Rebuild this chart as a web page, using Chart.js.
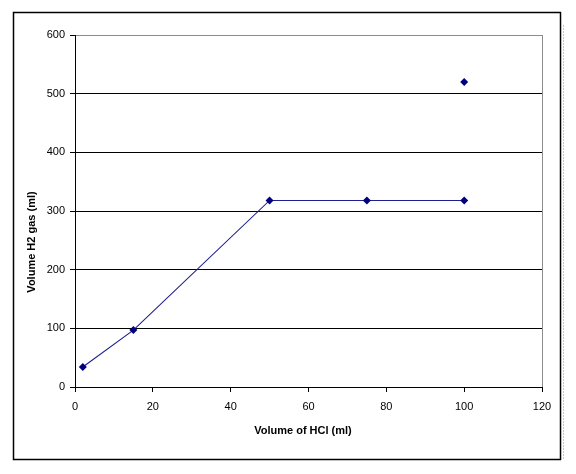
<!DOCTYPE html>
<html>
<head>
<meta charset="utf-8">
<script src="https://cdn.jsdelivr.net/npm/chart.js@4.4.1/dist/chart.umd.min.js"></script>
<style>
  html, body { margin: 0; padding: 0; background: #fff; }
  #wrap { position: relative; width: 576px; height: 474px; }
</style>
</head>
<body>
<div id="wrap"><canvas id="myChart" width="576" height="474"></canvas></div>
<script>
// volume of HCl added (ml) and H2 collected (ml)
const hcl = [2, 15, 50, 75, 100];
const h2 = [34, 97, 318, 318, 318];
// the odd reading at 100 ml, plotted on its own
const outlierHcl = [100];
const outlierH2 = [520];

const xTicks = [0, 20, 40, 60, 80, 100, 120];
const yTicks = [0, 100, 200, 300, 400, 500, 600];

const xTitle = 'Volume of HCl (ml)';
const yTitle = 'Volume H2 gas (ml)';

const navy = '#000080';
const grey = '#8c8c8c';
const fontFamily = 'Liberation Sans, Arial, sans-serif';

const toPoints = (xs, ys) => xs.map((x, i) => ({ x: x, y: ys[i] }));

// outer frame, grey right edge of the plot, and the axis titles
// (titles drawn here because in the original they sit off-centre)
const framePlugin = {
    id: 'frame',
    beforeDraw(chart) {
        const c = chart.ctx;
        c.save();
        c.fillStyle = '#fff';
        c.fillRect(0, 0, chart.width, chart.height);
        c.strokeStyle = '#000';
        c.lineWidth = 1.5;
        c.strokeRect(13.5, 12.5, 547, 447);
        c.strokeStyle = '#c8c8c8';
        c.lineWidth = 1;
        c.setLineDash([2, 1]);
        c.beginPath();
        c.moveTo(563.5, 25);
        c.lineTo(563.5, 460);
        c.stroke();
        c.restore();
    },
    afterDatasetsDraw(chart) {
        const a = chart.chartArea;
        const c = chart.ctx;
        c.save();
        c.strokeStyle = grey;
        c.lineWidth = 1;
        c.beginPath();
        c.moveTo(Math.round(a.right) + 0.5, a.top);
        c.lineTo(Math.round(a.right) + 0.5, a.bottom);
        c.stroke();

        c.fillStyle = '#000';
        c.font = 'bold 11px ' + fontFamily;
        c.textAlign = 'center';
        c.textBaseline = 'middle';
        c.fillText(xTitle, 303, 431);
        c.translate(32, 242);
        c.rotate(-Math.PI / 2);
        c.fillText(yTitle, 0, 0);
        c.restore();
    }
};

const ctx = document.getElementById('myChart').getContext('2d');

const myChart = new Chart(ctx, {
    type: 'scatter',
    data: {
        datasets: [
            {
                data: toPoints(hcl, h2),
                showLine: true,
                borderColor: '#1f1f8f',
                borderWidth: 1.1,
                backgroundColor: navy,
                pointStyle: 'rectRot',
                pointRadius: 4,
                pointBorderWidth: 0
            },
            {
                data: toPoints(outlierHcl, outlierH2),
                showLine: false,
                borderColor: navy,
                backgroundColor: navy,
                pointStyle: 'rectRot',
                pointRadius: 4,
                pointBorderWidth: 0
            }
        ]
    },
    options: {
        responsive: false,
        animation: false,
        devicePixelRatio: 1,
        layout: { padding: { left: 20, right: 34, top: 35, bottom: 30 } },
        plugins: {
            legend: { display: false },
            tooltip: { enabled: false }
        },
        scales: {
            x: {
                type: 'linear',
                min: xTicks[0],
                max: xTicks[xTicks.length - 1],
                afterBuildTicks: (axis) => { axis.ticks = xTicks.map(v => ({ value: v })); },
                afterFit: (axis) => { axis.height = 57; },
                grid: { drawOnChartArea: false, tickLength: 5, tickColor: '#000', lineWidth: 1 },
                border: { color: '#000', width: 1 },
                ticks: {
                    padding: 8,
                    color: '#000',
                    font: { family: fontFamily, size: 11 }
                }
            },
            y: {
                type: 'linear',
                min: yTicks[0],
                max: yTicks[yTicks.length - 1],
                afterBuildTicks: (axis) => { axis.ticks = yTicks.map(v => ({ value: v })); },
                afterFit: (axis) => { axis.width = 55; },
                grid: {
                    color: (c) => c.tick.value === 600 ? grey : '#000',
                    tickColor: '#000',
                    tickLength: 5,
                    lineWidth: 1
                },
                border: { color: '#000', width: 1 },
                ticks: {
                    padding: 5,
                    color: '#000',
                    font: { family: fontFamily, size: 11 }
                }
            }
        }
    },
    plugins: [framePlugin]
});
</script>
</body>
</html>
